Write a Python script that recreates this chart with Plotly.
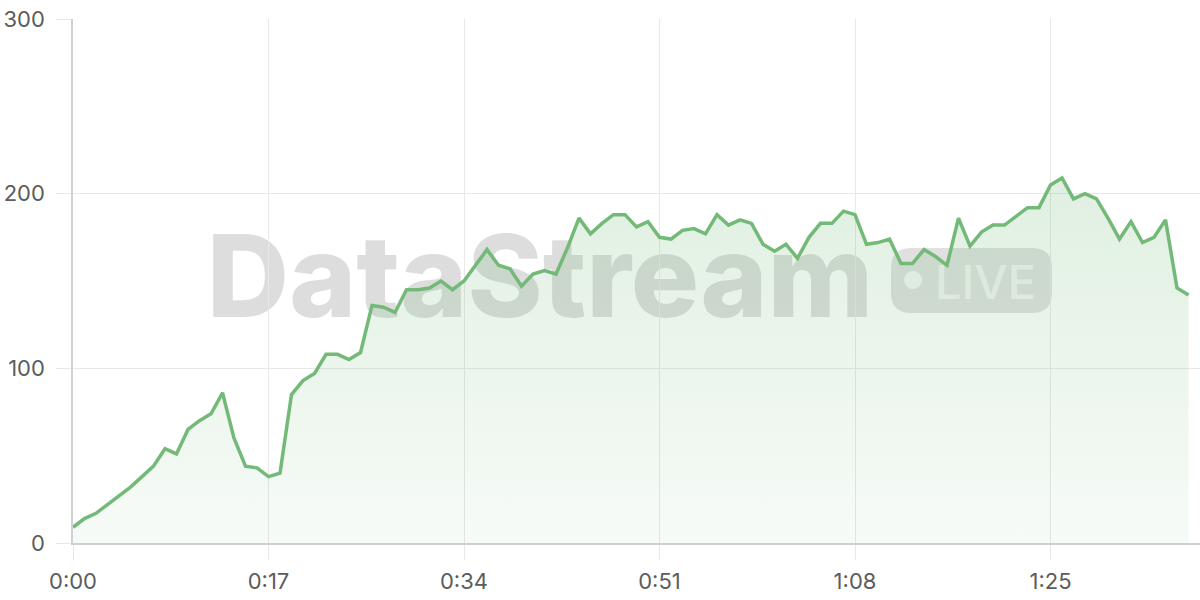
import plotly.graph_objects as go

# ---- data (minutes elapsed, value) ----
minutes = list(range(98))
values = [
    9, 14, 17, 22, 27, 32, 38, 44, 54, 51,
    65, 70, 74, 86, 60, 44, 43, 38, 40, 85,
    93, 97, 108, 108, 105, 109, 136, 135, 132, 145,
    145, 146, 150, 145, 150, 159, 168, 159, 157, 147,
    154, 156, 154, 169, 186, 177, 183, 188, 188, 181,
    184, 175, 174, 179, 180, 177, 188, 182, 185, 183,
    171, 167, 171, 163, 175, 183, 183, 190, 188, 171,
    172, 174, 160, 160, 168, 164, 159, 186, 170, 178,
    182, 182, 187, 192, 192, 205, 209, 197, 200, 197,
    186, 174, 184, 172, 175, 185, 146, 142,
]
tick_vals = [0, 17, 34, 51, 68, 85]
tick_text = ["0:00", "0:17", "0:34", "0:51", "1:08", "1:25"]
y_ticks = [0, 100, 200, 300]

LINE = "rgb(115,185,120)"
GRID = "#e8e8e8"
LABEL = "#5c5c5c"

W, H = 1200, 600
ML, MR, MT, MB = 73, 0, 19, 57
PW, PH = W - ML - MR, H - MT - MB


def px(x):
    return (x - ML) / PW


def py(y):
    return (H - MB - y) / PH


fig = go.Figure()
fig.add_trace(go.Scatter(
    x=minutes, y=values, mode="lines",
    line=dict(color=LINE, width=3.5),
    fill="tozeroy",
    fillgradient=dict(
        type="vertical", start=0, stop=max(values),
        colorscale=[[0, "rgba(115,185,120,0.06)"], [1, "rgba(115,185,120,0.22)"]],
    ),
    hoverinfo="skip", showlegend=False,
))

# ---- watermark (below traces) ----
shapes = []
shapes.append(dict(
    type="rect", xref="paper", yref="paper", layer="below",
    x0=px(200), x1=px(880), y0=py(313), y1=py(229),
    line=dict(width=0), fillcolor="rgba(0,0,0,0)",
    label=dict(text="DataStream", textposition="middle center",
               font=dict(family="Inter", size=114, color="rgba(0,0,0,0.135)", weight=800)),
))
# rounded "LIVE" pill
x0, x1, y0, y1, r = 891, 1052, 248, 313, 20
pts = [
    f"M {px(x0 + r)},{py(y0)}",
    f"L {px(x1 - r)},{py(y0)}",
    f"Q {px(x1)},{py(y0)} {px(x1)},{py(y0 + r)}",
    f"L {px(x1)},{py(y1 - r)}",
    f"Q {px(x1)},{py(y1)} {px(x1 - r)},{py(y1)}",
    f"L {px(x0 + r)},{py(y1)}",
    f"Q {px(x0)},{py(y1)} {px(x0)},{py(y1 - r)}",
    f"L {px(x0)},{py(y0 + r)}",
    f"Q {px(x0)},{py(y0)} {px(x0 + r)},{py(y0)}",
    "Z",
]
shapes.append(dict(
    type="path", xref="paper", yref="paper", layer="below",
    path=" ".join(pts), line=dict(width=0), fillcolor="rgba(0,0,0,0.12)",
))
shapes.append(dict(
    type="circle", xref="paper", yref="paper", layer="below",
    x0=px(904), x1=px(922), y0=py(289), y1=py(271),
    line=dict(width=0), fillcolor="rgba(255,255,255,0.75)",
))
shapes.append(dict(
    type="rect", xref="paper", yref="paper", layer="below",
    x0=px(930), x1=px(1041), y0=py(305), y1=py(255),
    line=dict(width=0), fillcolor="rgba(0,0,0,0)",
    label=dict(text="LIVE", textposition="middle center",
               font=dict(family="Inter", size=47, color="rgba(255,255,255,0.65)", weight=500)),
))

fig.update_layout(
    width=W, height=H,
    margin=dict(l=ML, r=MR, t=MT, b=MB, pad=0, autoexpand=False),
    paper_bgcolor="white", plot_bgcolor="white",
    font=dict(family="Inter", size=22, color=LABEL),
    shapes=shapes,
    xaxis=dict(
        range=[0, 98], tickvals=tick_vals, ticktext=tick_text,
        showgrid=True, gridcolor=GRID, gridwidth=1,
        ticks="outside", ticklen=15, tickcolor=GRID, tickwidth=1,
        showline=True, linecolor="#cfcfcf", linewidth=1.5,
        zeroline=False, ticklabelstandoff=3, automargin=False,
        tickfont=dict(family="Inter", size=22, color=LABEL),
    ),
    yaxis=dict(
        range=[0, 300], tickvals=y_ticks,
        showgrid=True, gridcolor=GRID, gridwidth=1,
        ticks="outside", ticklen=15, tickcolor=GRID, tickwidth=1,
        showline=True, linecolor="#d0d0d0", linewidth=1.5,
        zeroline=False, ticklabelstandoff=7, automargin=False,
        tickfont=dict(family="Inter", size=22, color=LABEL),
    ),
    hovermode=False,
)

fig.write_html("out.html", config={"displayModeBar": False},
               post_script="document.body.style.margin='0';")
